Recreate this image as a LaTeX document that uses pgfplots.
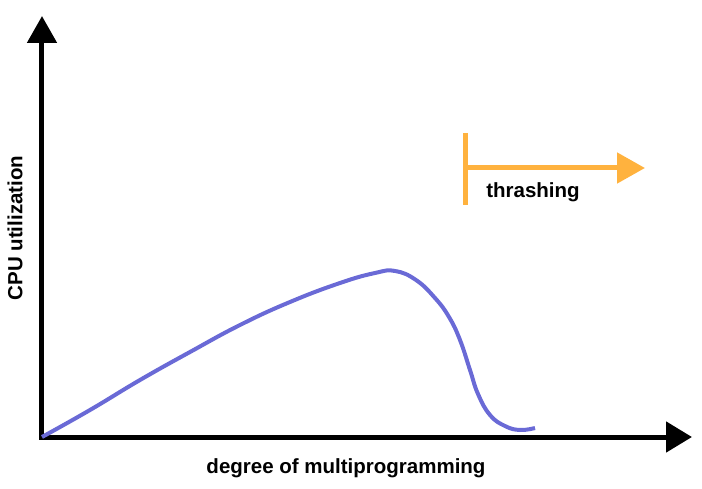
\documentclass[border=0pt]{standalone}
\usepackage{pgfplots}
\pgfplotsset{compat=1.18}
\usetikzlibrary{arrows.meta}
\usepackage{fontspec}
\setmainfont{Liberation Sans}
\definecolor{curve}{RGB}{106,106,214}
\definecolor{orng}{RGB}{255,178,62}
\begin{document}
\begin{tikzpicture}
\useasboundingbox (-42pt,-51pt) rectangle (660pt,437pt);
\begin{axis}[
  at={(0pt,0pt)}, anchor=south west,
  scale only axis, width=650pt, height=422pt,
  xmin=0, xmax=650, ymin=0, ymax=422,
  axis lines=none, clip=false,
]
\draw[line width=5pt, -{Triangle[width=30pt,length=26pt]}] (axis cs:-2.5,0) -- (axis cs:650,0);
\draw[line width=5pt, -{Triangle[width=29pt,length=27pt]}] (axis cs:0,-2.5) -- (axis cs:0,421);
\addplot[curve, line width=4pt, smooth, tension=0.75] coordinates {
(0,0) (48,27) (98,57) (148,85) (198,112) (248,135) (298,154) (333,164) (353,166)
(374,157) (393,139) (407,120) (418,97) (428,67) (436,43) (448,22) (463,11) (478,7) (493,9)
};
\draw[orng, line width=5pt] (axis cs:423,304) -- (axis cs:423,232);
\draw[orng, line width=5pt, -{Triangle[width=30pt,length=28pt]}] (axis cs:423,269) -- (axis cs:603,269);
\node[font=\fontsize{20.5}{24}\selectfont\bfseries] at (axis cs:491,245) {thrashing};
\node[font=\fontsize{20.5}{24}\selectfont\bfseries] at (axis cs:304,-31) {degree of multiprogramming};
\node[font=\fontsize{20.5}{24}\selectfont\bfseries, rotate=90] at (axis cs:-27,209) {CPU utilization};
\end{axis}
\end{tikzpicture}
\end{document}
